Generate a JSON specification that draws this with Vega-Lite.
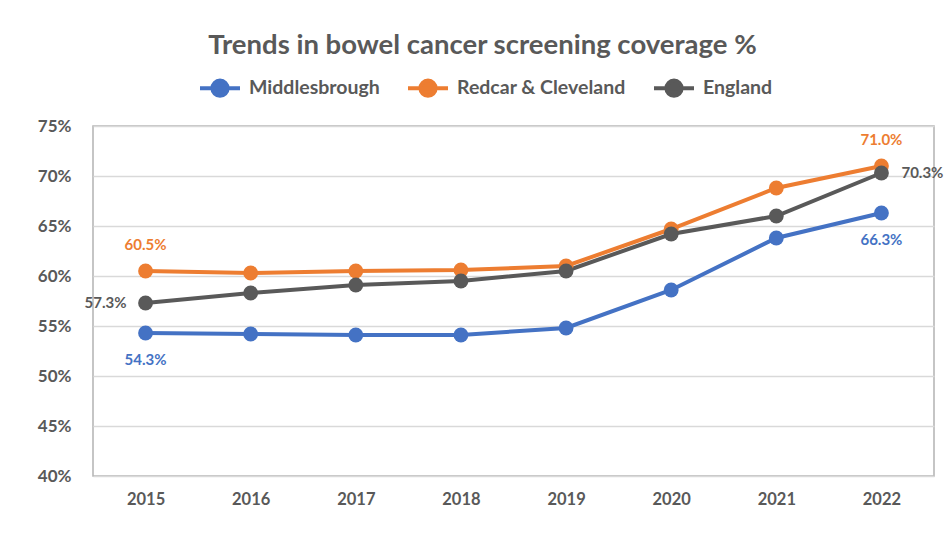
{
  "$schema": "https://vega.github.io/schema/vega-lite/v6.json",
  "width": 841,
  "height": 350,
  "autosize": {"type": "none"},
  "padding": {"left": 93, "top": 126, "right": 12, "bottom": 75},
  "background": "white",
  "title": {
    "text": "Trends in bowel cancer screening coverage %",
    "anchor": "middle",
    "dx": -31,
    "offset": 7,
    "fontSize": 27.5,
    "font": "Lato",
    "fontWeight": "bold",
    "color": "#595959"
  },
  "data": {
    "values": [
      {"year": "2015", "series": "Middlesbrough", "value": 0.543},
      {"year": "2016", "series": "Middlesbrough", "value": 0.542},
      {"year": "2017", "series": "Middlesbrough", "value": 0.541},
      {"year": "2018", "series": "Middlesbrough", "value": 0.541},
      {"year": "2019", "series": "Middlesbrough", "value": 0.548},
      {"year": "2020", "series": "Middlesbrough", "value": 0.586},
      {"year": "2021", "series": "Middlesbrough", "value": 0.638},
      {"year": "2022", "series": "Middlesbrough", "value": 0.663},
      {"year": "2015", "series": "Redcar & Cleveland", "value": 0.605},
      {"year": "2016", "series": "Redcar & Cleveland", "value": 0.603},
      {"year": "2017", "series": "Redcar & Cleveland", "value": 0.605},
      {"year": "2018", "series": "Redcar & Cleveland", "value": 0.606},
      {"year": "2019", "series": "Redcar & Cleveland", "value": 0.610},
      {"year": "2020", "series": "Redcar & Cleveland", "value": 0.647},
      {"year": "2021", "series": "Redcar & Cleveland", "value": 0.688},
      {"year": "2022", "series": "Redcar & Cleveland", "value": 0.710},
      {"year": "2015", "series": "England", "value": 0.573},
      {"year": "2016", "series": "England", "value": 0.583},
      {"year": "2017", "series": "England", "value": 0.591},
      {"year": "2018", "series": "England", "value": 0.595},
      {"year": "2019", "series": "England", "value": 0.605},
      {"year": "2020", "series": "England", "value": 0.642},
      {"year": "2021", "series": "England", "value": 0.660},
      {"year": "2022", "series": "England", "value": 0.703}
    ]
  },
  "encoding": {
    "x": {
      "field": "year",
      "type": "ordinal",
      "scale": {"type": "point", "padding": 0.5},
      "axis": {
        "title": null,
        "labelAngle": 0,
        "domain": false,
        "ticks": false,
        "grid": false,
        "labelPadding": 15,
        "labelFontSize": 16.5,
        "labelFont": "Lato",
        "labelFontWeight": "bold",
        "labelColor": "#595959"
      }
    },
    "y": {
      "field": "value",
      "type": "quantitative",
      "scale": {"domain": [0.4, 0.75], "nice": false, "zero": false},
      "axis": {
        "title": null,
        "format": ".0%",
        "values": [0.4, 0.45, 0.5, 0.55, 0.6, 0.65, 0.7, 0.75],
        "domain": false,
        "ticks": false,
        "labelPadding": 22,
        "labelFontSize": 17,
        "labelFont": "Lato",
        "labelFontWeight": "bold",
        "labelColor": "#595959",
        "gridColor": "#d9d9d9",
        "gridWidth": 1.5
      }
    },
    "color": {
      "field": "series",
      "type": "nominal",
      "scale": {
        "domain": ["Middlesbrough", "Redcar & Cleveland", "England"],
        "range": ["#4472C4", "#ED7D31", "#595959"]
      },
      "legend": {
        "title": null,
        "orient": "none",
        "legendX": 105,
        "legendY": -60,
        "direction": "horizontal",
        "symbolType": "M-1,0L1,0M-0.38,0A0.38,0.38,0,1,0,0.38,0A0.38,0.38,0,1,0,-0.38,0Z",
        "symbolSize": 1600,
        "symbolStrokeWidth": 4,
        "labelFontSize": 19.5,
        "labelFont": "Lato",
        "labelFontWeight": "bold",
        "labelColor": "#595959",
        "labelLimit": 400,
        "columnPadding": 20,
        "labelOffset": 7,
        "encode": {
          "symbols": {
            "update": {
              "fill": {"scale": "color", "field": "value"},
              "stroke": {"scale": "color", "field": "value"},
              "strokeWidth": {"value": 4},
              "opacity": {"value": 1}
            }
          }
        }
      }
    }
  },
  "layer": [
    {
      "mark": {"type": "line", "strokeWidth": 4, "point": {"size": 220, "filled": true, "opacity": 1}}
    },
    {
      "transform": [{"filter": "(datum.year == '2015' || datum.year == '2022') && datum.series == 'Redcar & Cleveland'"}],
      "mark": {"type": "text", "dy": -26, "fontSize": 15, "font": "Lato", "fontWeight": "bold"},
      "encoding": {"text": {"field": "value", "format": ".1%"}}
    },
    {
      "transform": [{"filter": "(datum.year == '2015' || datum.year == '2022') && datum.series == 'Middlesbrough'"}],
      "mark": {"type": "text", "dy": 27, "fontSize": 15, "font": "Lato", "fontWeight": "bold"},
      "encoding": {"text": {"field": "value", "format": ".1%"}}
    },
    {
      "transform": [{"filter": "datum.year == '2015' && datum.series == 'England'"}],
      "mark": {"type": "text", "dx": -19, "align": "right", "fontSize": 15, "font": "Lato", "fontWeight": "bold"},
      "encoding": {"text": {"field": "value", "format": ".1%"}}
    },
    {
      "transform": [{"filter": "datum.year == '2022' && datum.series == 'England'"}],
      "mark": {"type": "text", "dx": 20, "align": "left", "fontSize": 15, "font": "Lato", "fontWeight": "bold"},
      "encoding": {"text": {"field": "value", "format": ".1%"}}
    }
  ],
  "config": {
    "view": {"stroke": "#b3b3b3", "strokeWidth": 1.5}
  }
}
